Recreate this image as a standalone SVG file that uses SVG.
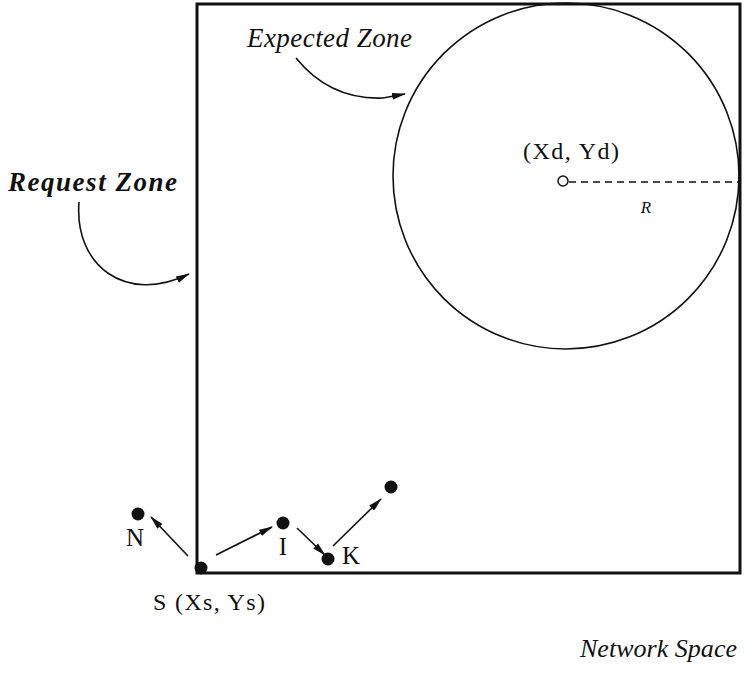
<svg xmlns="http://www.w3.org/2000/svg" width="755" height="676" viewBox="0 0 755 676">
<style>
.t{font-family:"Liberation Serif","Times New Roman",serif;fill:#111}
.i{font-style:italic}
.c{fill:none;stroke:#111;stroke-width:1.6}
.dot{fill:#111}
</style>
<defs>
<marker id="ah" markerWidth="14" markerHeight="8" refX="13" refY="4" orient="auto" markerUnits="userSpaceOnUse">
<path d="M0,0.5 L14,4 L0,7.5 Z" fill="#111"/>
</marker>
</defs>
<rect width="755" height="676" fill="#fff"/>
<g id="request-zone">
<rect x="197" y="4" width="543" height="569" fill="none" stroke="#111" stroke-width="3"/>
<text class="t i" x="8" y="191" font-size="27" font-weight="bold" textLength="169" lengthAdjust="spacing">Request Zone</text>
</g>
<g id="expected-zone">
<circle cx="566" cy="176" r="173" fill="none" stroke="#111" stroke-width="1.6"/>
<text class="t i" x="247" y="47" font-size="27" textLength="165" lengthAdjust="spacing">Expected Zone</text>
</g>
<g id="destination">
<circle cx="563" cy="181" r="5" fill="#fff" stroke="#111" stroke-width="1.5"/>
<line x1="569" y1="182" x2="740" y2="182" stroke="#111" stroke-width="1.4" stroke-dasharray="7,5"/>
<text class="t" x="523" y="159" font-size="24" textLength="96" lengthAdjust="spacing">(Xd, Yd)</text>
<text class="t i" x="646" y="213" font-size="17" text-anchor="middle">R</text>
</g>
<g id="node-S">
<circle class="dot" cx="201" cy="568" r="6.5"/>
<text class="t" x="153" y="610" font-size="24" textLength="112" lengthAdjust="spacing">S (Xs, Ys)</text>
</g>
<g id="node-N">
<circle class="dot" cx="138" cy="514" r="6.5"/>
<text class="t" x="135" y="546" font-size="25" text-anchor="middle">N</text>
</g>
<g id="node-I">
<circle class="dot" cx="283" cy="523" r="6.5"/>
<text class="t" x="283" y="555" font-size="25" text-anchor="middle">I</text>
</g>
<g id="node-K">
<circle class="dot" cx="328" cy="559" r="6.5"/>
<text class="t" x="351" y="564" font-size="25" text-anchor="middle">K</text>
</g>
<g id="node-next">
<circle class="dot" cx="391" cy="487" r="6.5"/>
</g>
<g id="connectors">
<path class="c" d="M296,58 Q330,100 383,98 L405,94" marker-end="url(#ah)"/>
<path class="c" d="M79,202 C74,265 125,305 189,274" marker-end="url(#ah)"/>
<line class="c" x1="188" y1="556" x2="151" y2="517" marker-end="url(#ah)"/>
<line class="c" x1="216" y1="555" x2="272" y2="527" marker-end="url(#ah)"/>
<line class="c" x1="297" y1="528" x2="325" y2="555" marker-end="url(#ah)"/>
<line class="c" x1="333" y1="546" x2="381" y2="499" marker-end="url(#ah)"/>
</g>
<text class="t i" x="580" y="657" font-size="26" textLength="157" lengthAdjust="spacing">Network Space</text>
</svg>
